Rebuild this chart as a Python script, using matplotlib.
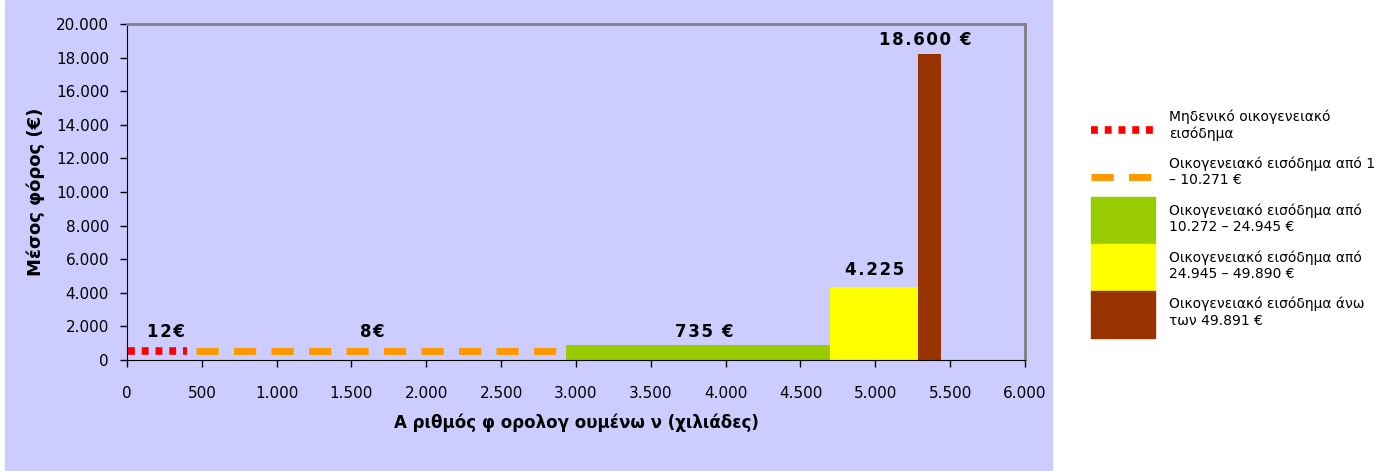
import matplotlib.pyplot as plt
from matplotlib.patches import Rectangle
from matplotlib.lines import Line2D
from matplotlib.legend_handler import HandlerBase
from matplotlib.ticker import FuncFormatter
import numpy as np

# groups: number of taxpayers (thousands) and average tax (EUR)
labels = [
    "Μηδενικό οικογενειακό\nεισόδημα",
    "Οικογενειακό εισόδημα από 1\n– 10.271 €",
    "Οικογενειακό εισόδημα από\n10.272 – 24.945 €",
    "Οικογενειακό εισόδημα από\n24.945 – 49.890 €",
    "Οικογενειακό εισόδημα άνω\nτων 49.891 €",
]
taxpayers = [400, 2535, 1765, 585, 155]
avg_tax = [540, 540, 880, 4350, 18200]   # heights as drawn in the picture
value_text = ["12€", "8€", "735 €", "4.225", "18.600 €"]
colors = ["#FF0000", "#FF9900", "#99CC00", "#FFFF00", "#993300"]

BG = "#CCCCFF"
dot = (0, (0.9, 0.9))
dash = (0, (3.2, 2.2))


def spaced(s):
    # imitate the wide letter spacing of the original labels
    return "\u200a".join(s)


class LowLine(HandlerBase):
    # legend line drawn a bit below the middle, like in the original
    def create_artists(self, legend, orig, xdescent, ydescent, width, height,
                       fontsize, trans):
        y = (height - ydescent) / 2 - 0.27 * height
        ln = Line2D([-xdescent, -xdescent + width], [y, y])
        ln.update_from(orig)
        ln.set_transform(trans)
        return [ln]


fig = plt.figure(figsize=(13.75, 4.71), dpi=100)
fig.patches.append(Rectangle((5 / 1375, 0), (1052 - 5) / 1375, 1,
                             transform=fig.transFigure, color=BG, zorder=-5))
ax = fig.add_axes([127 / 1375, 1 - 360 / 471, (1025 - 127) / 1375, (360 - 24) / 471])
ax.set_facecolor(BG)

left = np.concatenate([[0], np.cumsum(taxpayers)[:-1]])

# first two groups drawn as lines (dotted / dashed)
ax.plot([left[0] + 10, left[0] + taxpayers[0]], [avg_tax[0]] * 2, color=colors[0],
        lw=5.5, linestyle=dot, dash_capstyle="butt")
ax.plot([left[1] + 60, left[1] + taxpayers[1]], [avg_tax[1]] * 2, color=colors[1],
        lw=5, linestyle=dash, dash_capstyle="butt")

for i in range(2, 5):
    ax.bar(left[i], avg_tax[i], width=taxpayers[i], align="edge", color=colors[i], zorder=2)

label_x = [left[0] + 260, left[1] + 1240, left[2] + taxpayers[2] / 2 + 40,
           left[3] + taxpayers[3] / 2, left[4] + taxpayers[4] / 2 - 30]
label_y = [1150, 1150, avg_tax[2] + 280, avg_tax[3] + 450, avg_tax[4] + 300]
for x, y, t in zip(label_x, label_y, value_text):
    ax.text(x, y, spaced(t), ha="center", va="bottom", fontsize=12, fontweight="bold")

ax.set_xlim(0, 6000)
ax.set_ylim(0, 20000)
ax.set_xticks(np.arange(0, 6001, 500))
ax.set_yticks(np.arange(0, 20001, 2000))
fmt = FuncFormatter(lambda v, p: f"{int(v):,}".replace(",", "."))
ax.xaxis.set_major_formatter(fmt)
ax.yaxis.set_major_formatter(fmt)
ax.tick_params(labelsize=11, direction="out", length=5, width=1)
ax.tick_params(axis="x", pad=14)
ax.tick_params(axis="y", pad=8)

for s in ["top", "right"]:
    ax.spines[s].set_color("#808080")
    ax.spines[s].set_linewidth(2)
for s in ["left", "bottom"]:
    ax.spines[s].set_color("black")

ax.set_xlabel("Α ριθμός φ ορολογ ουμένω ν (χιλιάδες)", fontsize=12,
              fontweight="bold", labelpad=9)
ax.set_ylabel("Μέσος φόρος (€)", fontsize=13, fontweight="bold", labelpad=8)

handles = [
    Line2D([], [], color=colors[0], lw=5.5, linestyle=dot),
    Line2D([], [], color=colors[1], lw=5, linestyle=dash),
] + [Rectangle((0, 0), 1, 1, color=c) for c in colors[2:]]
fig.legend(handles, labels, loc="upper left", bbox_to_anchor=(1091 / 1375, 1 - 104 / 471),
           frameon=False, fontsize=10, handlelength=4.6, handleheight=4.8,
           labelspacing=0.0, handletextpad=1.0, borderaxespad=0, borderpad=0,
           handler_map={Line2D: LowLine()})

fig.savefig("out.png", dpi=100)
